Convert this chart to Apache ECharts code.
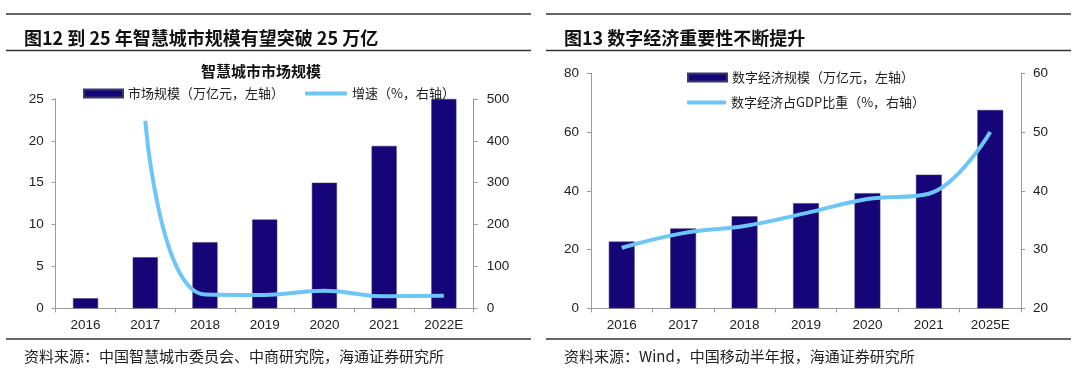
<!DOCTYPE html>
<html><head><meta charset="utf-8">
<script src="https://cdn.jsdelivr.net/npm/echarts@6/dist/echarts.min.js"></script>
<style>html,body{margin:0;padding:0;background:#fff}#c{width:1080px;height:370px}</style>
</head><body><div id="c"></div>
<script>
// Left chart: smart city market
const catsL = ['2016','2017','2018','2019','2020','2021','2022E'];
const marketSize = [1.2, 6.1, 7.9, 10.6, 15.0, 19.4, 25.0];
const marketGrowth = [null, 448, 33, 32, 42, 29, 30];
const leftTicks = [0, 25, 5];
const rightTicksL = [0, 500, 100];
// Right chart: digital economy
const catsR = ['2016','2017','2018','2019','2020','2021','2025E'];
const digitalSize = [22.7, 27.2, 31.3, 35.8, 39.2, 45.5, 67.5];
const digitalShare = [30.3, 32.8, 34.0, 36.2, 38.6, 39.5, 50.0];
const leftTicksR = [0, 80, 20];
const rightTicksR = [20, 60, 10];

const NUM = 'Liberation Sans, Arial, sans-serif';
const CJK = 'Noto Sans CJK SC, sans-serif';
const BAR = '#150578';
const LINE = '#6EC6F6';
const AX = '#9a9a9a';

function yAx(t, gi, pos, margin){
  return {type:'value', gridIndex:gi, position:pos, min:t[0], max:t[1], interval:t[2],
    axisLine:{show:true, lineStyle:{color:AX}}, axisTick:{show:true, length:4, lineStyle:{color:AX}},
    splitLine:{show:false}, axisLabel:{margin:margin, color:'#222', fontSize:13.5, fontFamily:NUM}};
}
function xAx(c, gi){
  return {type:'category', gridIndex:gi, data:c,
    axisLine:{lineStyle:{color:AX}}, axisTick:{show:true, length:4, alignWithLabel:false, lineStyle:{color:AX}},
    axisLabel:{margin:10, color:'#222', fontSize:13.5, fontFamily:NUM}};
}
const legTxt = {fontSize:13, color:'#222', fontFamily:CJK};

const option = {
  animation:false,
  backgroundColor:'#fff',
  title:[
    {text:'图12 到 25 年智慧城市规模有望突破 25 万亿', left:19, top:24, textStyle:{fontSize:18, fontWeight:'bold', color:'#111', fontFamily:CJK}},
    {text:'图13 数字经济重要性不断提升', left:559, top:24, textStyle:{fontSize:18, fontWeight:'bold', color:'#111', fontFamily:CJK}},
    {text:'智慧城市市场规模', left:256, textAlign:'center', top:59, textStyle:{fontSize:15, fontWeight:'bold', color:'#111', fontFamily:CJK}},
    {text:'资料来源：中国智慧城市委员会、中商研究院，海通证券研究所', left:19, top:344, textStyle:{fontSize:15, fontWeight:'normal', color:'#222', fontFamily:CJK}},
    {text:'资料来源：Wind，中国移动半年报，海通证券研究所', left:559, top:344, textStyle:{fontSize:15, fontWeight:'normal', color:'#222', fontFamily:CJK}}
  ],
  graphic:[
    {type:'line', shape:{x1:6,y1:14,x2:531,y2:14}, style:{stroke:'#333', lineWidth:1.3}},
    {type:'line', shape:{x1:6,y1:50.5,x2:531,y2:50.5}, style:{stroke:'#333', lineWidth:1.3}},
    {type:'line', shape:{x1:6,y1:339,x2:531,y2:339}, style:{stroke:'#333', lineWidth:1.3}},
    {type:'line', shape:{x1:546,y1:14,x2:1071,y2:14}, style:{stroke:'#333', lineWidth:1.3}},
    {type:'line', shape:{x1:546,y1:50.5,x2:1071,y2:50.5}, style:{stroke:'#333', lineWidth:1.3}},
    {type:'line', shape:{x1:546,y1:339,x2:1071,y2:339}, style:{stroke:'#333', lineWidth:1.3}}
  ],
  legend:[
    {data:['市场规模（万亿元，左轴）'], left:78, top:82, icon:'rect', itemWidth:39, itemHeight:8, textStyle:legTxt, selectedMode:false},
    {data:['增速（%，右轴）'], left:300, top:82, icon:'roundRect', itemWidth:42, itemHeight:4, textStyle:legTxt, selectedMode:false},
    {data:['数字经济规模（万亿元，左轴）'], left:682, top:66, icon:'rect', itemWidth:39, itemHeight:8, textStyle:legTxt, selectedMode:false},
    {data:['数字经济占GDP比重（%，右轴）'], left:682, top:91, icon:'roundRect', itemWidth:39, itemHeight:4, textStyle:legTxt, selectedMode:false}
  ],
  grid:[
    {left:55.7, top:99, width:418, height:209.3},
    {left:591, top:73.3, width:430, height:235}
  ],
  xAxis:[xAx(catsL,0), xAx(catsR,1)],
  yAxis:[yAx(leftTicks,0,'left',12), yAx(rightTicksL,0,'right',13), yAx(leftTicksR,1,'left',12), yAx(rightTicksR,1,'right',12)],
  series:[
    {name:'市场规模（万亿元，左轴）', type:'bar', xAxisIndex:0, yAxisIndex:0, data:marketSize, barWidth:'42%', itemStyle:{color:BAR, borderColor:'#3a3a6a', borderWidth:0.5}},
    {name:'增速（%，右轴）', type:'line', xAxisIndex:0, yAxisIndex:1, data:marketGrowth, smooth:0.5, symbol:'none', lineStyle:{color:LINE, width:4}, itemStyle:{color:LINE}},
    {name:'数字经济规模（万亿元，左轴）', type:'bar', xAxisIndex:1, yAxisIndex:2, data:digitalSize, barWidth:'42%', itemStyle:{color:BAR, borderColor:'#3a3a6a', borderWidth:0.5}},
    {name:'数字经济占GDP比重（%，右轴）', type:'line', xAxisIndex:1, yAxisIndex:3, data:digitalShare, smooth:0.4, symbol:'none', lineStyle:{color:LINE, width:4}, itemStyle:{color:LINE}}
  ]
};
const chart = echarts.init(document.getElementById('c'), null, {renderer:'canvas'});
chart.setOption(option);
</script></body></html>
